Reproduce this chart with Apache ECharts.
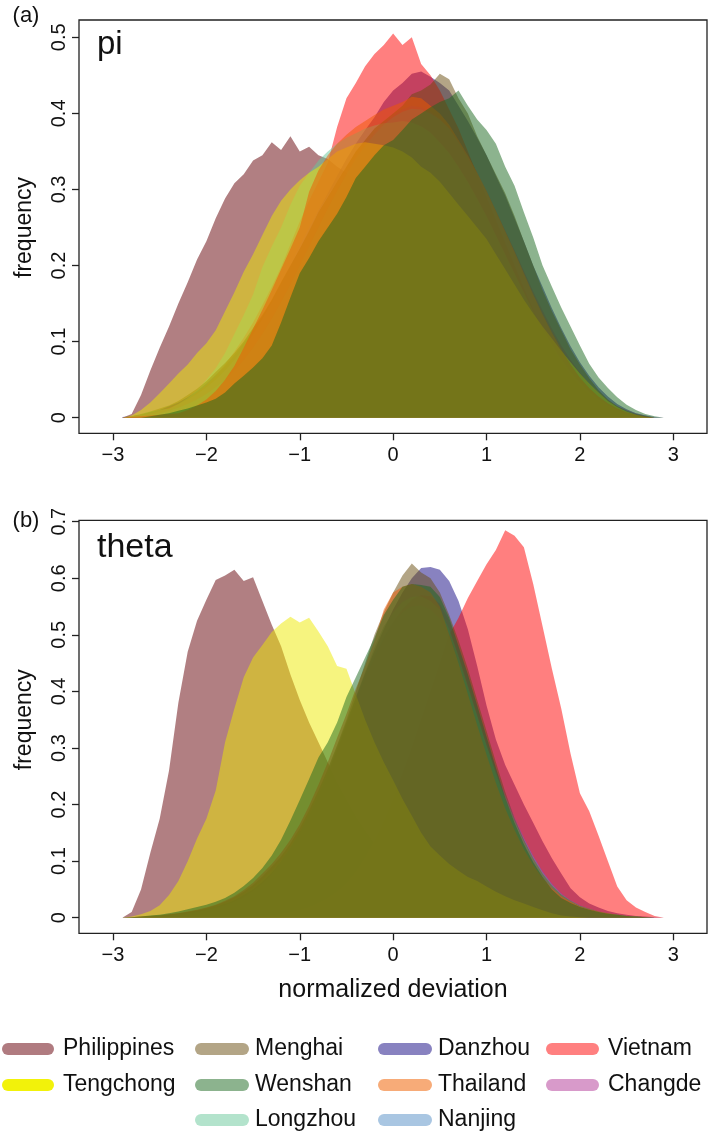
<!DOCTYPE html>
<html>
<head>
<meta charset="utf-8">
<script src="https://cdn.jsdelivr.net/npm/echarts@6/dist/echarts.min.js"></script>
<style>
html,body{margin:0;padding:0;background:#fff;}
#chart{width:709px;height:1136px;}
</style>
</head>
<body>
<div id="chart"></div>
<script>
// ---------- data ----------
const xs = [-2.9,-2.8,-2.7,-2.6,-2.5,-2.4,-2.3,-2.2,-2.1,-2.0,
  -1.9,-1.8,-1.7,-1.6,-1.5,-1.4,-1.3,-1.2,-1.1,-1.0,
  -0.9,-0.8,-0.7,-0.6,-0.5,-0.4,-0.3,-0.2,-0.1,0.0,
  0.1,0.2,0.3,0.4,0.5,0.6,0.7,0.8,0.9,1.0,
  1.1,1.2,1.3,1.4,1.5,1.6,1.7,1.8,1.9,2.0,
  2.1,2.2,2.3,2.4,2.5,2.6,2.7,2.8,2.9];

const populations = ['Philippines','Menghai','Danzhou','Vietnam','Tengchong','Wenshan','Thailand','Changde','Longzhou','Nanjing'];
const xTicks = [-3,-2,-1,0,1,2,3];
const piTicks = [0,0.1,0.2,0.3,0.4,0.5];
const thetaTicks = [0,0.1,0.2,0.3,0.4,0.5,0.6,0.7];

// panel (a) pi
const piPhilippines = [0,0.005,0.03,0.062,0.092,0.12,0.15,0.178,0.208,0.232,
  0.262,0.288,0.308,0.32,0.338,0.345,0.362,0.352,0.37,0.35,
  0.356,0.345,0.34,0.33,0.322,0.312,0.302,0.29,0.278,0.265,
  0.25,0.235,0.22,0.2,0.185,0.165,0.15,0.13,0.115,0.1,
  0.085,0.07,0.058,0.047,0.037,0.029,0.022,0.016,0.011,0.008,
  0.005,0.003,0.002,0.001,0,0,0,0,0];
const piTengchong = [0,0.003,0.01,0.02,0.032,0.045,0.058,0.07,0.085,0.098,
  0.115,0.14,0.165,0.192,0.215,0.24,0.265,0.285,0.3,0.312,
  0.322,0.33,0.34,0.35,0.355,0.36,0.362,0.36,0.358,0.355,
  0.35,0.342,0.33,0.322,0.31,0.295,0.28,0.265,0.25,0.235,
  0.215,0.195,0.175,0.155,0.137,0.12,0.104,0.088,0.073,0.058,
  0.045,0.033,0.022,0.014,0.008,0.004,0.001,0,0];
const piMenghai = [0,0.002,0.005,0.008,0.012,0.016,0.022,0.03,0.038,0.048,
  0.06,0.072,0.085,0.1,0.118,0.135,0.155,0.178,0.2,0.222,
  0.245,0.27,0.29,0.31,0.33,0.35,0.365,0.38,0.39,0.4,
  0.41,0.425,0.43,0.438,0.452,0.445,0.42,0.4,0.37,0.345,
  0.32,0.295,0.265,0.232,0.2,0.168,0.14,0.115,0.09,0.07,
  0.052,0.036,0.024,0.015,0.009,0.005,0.002,0,0];
const piDanzhou = [0.001,0.002,0.004,0.007,0.01,0.015,0.02,0.027,0.035,0.045,
  0.056,0.068,0.082,0.098,0.115,0.133,0.153,0.175,0.198,0.222,
  0.247,0.272,0.295,0.318,0.34,0.36,0.378,0.395,0.415,0.43,
  0.44,0.452,0.455,0.448,0.44,0.43,0.41,0.39,0.368,0.345,
  0.318,0.292,0.262,0.232,0.2,0.172,0.144,0.118,0.094,0.073,
  0.055,0.04,0.028,0.018,0.011,0.006,0.003,0,0];
const piVietnam = [0,0.002,0.004,0.006,0.009,0.013,0.018,0.025,0.033,0.043,
  0.055,0.07,0.087,0.105,0.125,0.148,0.172,0.198,0.228,0.258,
  0.285,0.31,0.335,0.382,0.42,0.44,0.462,0.478,0.49,0.505,
  0.49,0.5,0.465,0.45,0.43,0.405,0.38,0.35,0.32,0.29,
  0.26,0.23,0.2,0.17,0.142,0.116,0.093,0.073,0.056,0.042,
  0.031,0.022,0.015,0.01,0.006,0.004,0.002,0,0];
const piWenshan = [0,0,0,0.002,0.004,0.006,0.009,0.012,0.016,0.02,
  0.025,0.033,0.045,0.055,0.066,0.078,0.095,0.125,0.158,0.19,
  0.21,0.232,0.25,0.268,0.29,0.315,0.33,0.345,0.358,0.365,
  0.378,0.392,0.4,0.408,0.415,0.42,0.43,0.41,0.392,0.378,
  0.36,0.33,0.305,0.27,0.237,0.2,0.172,0.145,0.12,0.095,
  0.071,0.053,0.039,0.027,0.017,0.01,0.005,0.002,0];
const piThailand = [0,0.001,0.002,0.003,0.004,0.005,0.006,0.01,0.016,0.024,
  0.035,0.05,0.068,0.092,0.117,0.142,0.168,0.195,0.222,0.25,
  0.297,0.325,0.345,0.36,0.372,0.382,0.39,0.398,0.405,0.41,
  0.415,0.422,0.42,0.41,0.4,0.385,0.365,0.345,0.322,0.298,
  0.272,0.245,0.218,0.19,0.162,0.136,0.112,0.09,0.07,0.053,
  0.039,0.028,0.019,0.012,0.007,0.004,0.002,0,0];
const piChangde = [0,0.002,0.004,0.006,0.009,0.013,0.018,0.024,0.031,0.04,
  0.05,0.062,0.076,0.092,0.11,0.13,0.152,0.176,0.2,0.226,
  0.25,0.272,0.292,0.31,0.328,0.345,0.36,0.375,0.388,0.398,
  0.405,0.41,0.408,0.402,0.393,0.38,0.365,0.345,0.322,0.298,
  0.272,0.246,0.22,0.193,0.166,0.141,0.117,0.095,0.076,0.059,
  0.044,0.032,0.022,0.015,0.01,0.006,0.003,0.001,0];
const piLongzhou = [0,0.002,0.005,0.008,0.01,0.012,0.018,0.026,0.036,0.05,
  0.065,0.085,0.11,0.135,0.162,0.198,0.225,0.25,0.28,0.305,
  0.322,0.338,0.35,0.36,0.368,0.374,0.38,0.384,0.387,0.388,
  0.39,0.388,0.383,0.375,0.362,0.348,0.33,0.31,0.288,0.265,
  0.24,0.215,0.19,0.165,0.14,0.117,0.096,0.077,0.06,0.046,
  0.034,0.024,0.016,0.01,0.006,0.003,0.001,0,0];
const piNanjing = [0,0,0.002,0.004,0.006,0.009,0.013,0.018,0.024,0.031,
  0.04,0.05,0.062,0.076,0.092,0.11,0.13,0.152,0.175,0.2,
  0.225,0.25,0.275,0.298,0.32,0.34,0.357,0.372,0.385,0.395,
  0.402,0.406,0.405,0.4,0.392,0.38,0.362,0.342,0.32,0.296,
  0.27,0.243,0.216,0.188,0.161,0.135,0.111,0.09,0.071,0.055,
  0.041,0.03,0.021,0.014,0.009,0.005,0.003,0.001,0];

// panel (b) theta
const thetaPhilippines = [0,0.01,0.05,0.115,0.175,0.26,0.38,0.47,0.525,0.562,
  0.597,0.605,0.615,0.595,0.602,0.56,0.518,0.48,0.43,0.385,
  0.345,0.31,0.275,0.24,0.21,0.18,0.155,0.132,0.112,0.095,
  0.08,0.066,0.055,0.045,0.037,0.03,0.024,0.019,0.015,0.012,
  0.009,0.007,0.005,0.004,0.003,0.002,0.002,0.001,0.001,0,
  0,0,0,0,0,0,0,0,0];
const thetaTengchong = [0,0.002,0.006,0.012,0.022,0.04,0.065,0.1,0.14,0.175,
  0.225,0.31,0.37,0.425,0.46,0.482,0.505,0.52,0.532,0.522,
  0.53,0.506,0.48,0.445,0.44,0.395,0.35,0.31,0.275,0.243,
  0.21,0.18,0.15,0.126,0.11,0.095,0.083,0.072,0.065,0.055,
  0.046,0.038,0.031,0.025,0.019,0.013,0.008,0.004,0.002,0.001,
  0,0,0,0,0,0,0,0,0];
const thetaMenghai = [0,0.001,0.002,0.003,0.004,0.006,0.008,0.01,0.013,0.017,
  0.022,0.028,0.036,0.046,0.058,0.073,0.09,0.108,0.131,0.158,
  0.19,0.225,0.263,0.305,0.35,0.4,0.45,0.5,0.54,0.575,
  0.605,0.626,0.61,0.6,0.575,0.535,0.49,0.44,0.385,0.33,
  0.275,0.222,0.176,0.138,0.105,0.078,0.057,0.041,0.03,0.021,
  0.016,0.011,0.008,0.005,0.003,0.002,0.001,0,0];
const thetaDanzhou = [0,0.001,0.002,0.003,0.004,0.005,0.007,0.009,0.012,0.015,
  0.019,0.024,0.031,0.04,0.05,0.063,0.079,0.099,0.123,0.15,
  0.18,0.215,0.255,0.298,0.342,0.388,0.432,0.472,0.51,0.545,
  0.575,0.6,0.618,0.62,0.615,0.595,0.56,0.51,0.445,0.375,
  0.315,0.27,0.235,0.2,0.168,0.135,0.105,0.078,0.052,0.036,
  0.025,0.018,0.012,0.008,0.005,0.003,0.002,0.001,0];
const thetaVietnam = [0,0,0,0,0,0,0,0,0,0,
  0,0,0,0.001,0.002,0.003,0.004,0.006,0.009,0.013,
  0.018,0.025,0.034,0.045,0.06,0.08,0.105,0.135,0.17,0.21,
  0.255,0.3,0.35,0.4,0.45,0.5,0.53,0.565,0.595,0.625,
  0.65,0.685,0.675,0.655,0.59,0.515,0.44,0.37,0.29,0.22,
  0.188,0.145,0.1,0.055,0.031,0.018,0.01,0.003,0];
const thetaWenshan = [0,0.001,0.002,0.004,0.005,0.008,0.011,0.015,0.019,0.023,
  0.028,0.035,0.044,0.056,0.07,0.088,0.11,0.138,0.172,0.208,
  0.245,0.283,0.31,0.345,0.39,0.425,0.46,0.495,0.535,0.562,
  0.585,0.59,0.588,0.585,0.567,0.53,0.48,0.43,0.375,0.32,
  0.265,0.212,0.168,0.13,0.098,0.072,0.05,0.035,0.026,0.019,
  0.014,0.01,0.007,0.005,0.003,0.002,0.001,0,0];
const thetaThailand = [0,0.001,0.002,0.003,0.004,0.006,0.008,0.011,0.014,0.018,
  0.023,0.03,0.038,0.049,0.062,0.078,0.095,0.115,0.138,0.165,
  0.198,0.235,0.275,0.318,0.36,0.405,0.445,0.49,0.545,0.575,
  0.585,0.59,0.585,0.575,0.55,0.5,0.45,0.395,0.34,0.288,
  0.238,0.193,0.155,0.121,0.093,0.07,0.052,0.038,0.028,0.02,
  0.015,0.011,0.008,0.005,0.003,0.002,0.001,0,0];
const thetaChangde = [0,0.001,0.002,0.002,0.003,0.004,0.006,0.008,0.01,0.013,
  0.017,0.022,0.028,0.036,0.046,0.059,0.075,0.095,0.119,0.147,
  0.179,0.215,0.254,0.296,0.339,0.382,0.423,0.46,0.494,0.522,
  0.545,0.562,0.57,0.568,0.555,0.525,0.48,0.428,0.372,0.318,
  0.266,0.22,0.178,0.142,0.11,0.083,0.061,0.044,0.031,0.022,
  0.016,0.011,0.008,0.005,0.003,0.002,0.001,0,0];
const thetaLongzhou = [0,0.001,0.002,0.003,0.004,0.005,0.007,0.009,0.012,0.015,
  0.019,0.025,0.032,0.041,0.053,0.067,0.083,0.102,0.125,0.15,
  0.182,0.218,0.258,0.3,0.345,0.39,0.435,0.478,0.515,0.54,
  0.558,0.567,0.568,0.56,0.545,0.51,0.462,0.41,0.358,0.305,
  0.255,0.21,0.17,0.135,0.104,0.078,0.057,0.041,0.03,0.021,
  0.016,0.011,0.008,0.005,0.003,0.002,0.001,0,0];
const thetaNanjing = [0,0.001,0.001,0.002,0.003,0.004,0.006,0.008,0.01,0.013,
  0.017,0.022,0.028,0.036,0.047,0.06,0.077,0.098,0.123,0.152,
  0.185,0.222,0.262,0.304,0.346,0.388,0.428,0.464,0.496,0.522,
  0.54,0.55,0.552,0.545,0.528,0.495,0.452,0.405,0.355,0.305,
  0.258,0.215,0.175,0.14,0.108,0.081,0.059,0.042,0.03,0.021,
  0.015,0.01,0.007,0.005,0.003,0.002,0.001,0,0];

const piData = {Philippines:piPhilippines,Menghai:piMenghai,Danzhou:piDanzhou,Vietnam:piVietnam,Tengchong:piTengchong,Wenshan:piWenshan,Thailand:piThailand,Changde:piChangde,Longzhou:piLongzhou,Nanjing:piNanjing};
const thetaData = {Philippines:thetaPhilippines,Menghai:thetaMenghai,Danzhou:thetaDanzhou,Vietnam:thetaVietnam,Tengchong:thetaTengchong,Wenshan:thetaWenshan,Thailand:thetaThailand,Changde:thetaChangde,Longzhou:thetaLongzhou,Nanjing:thetaNanjing};

// ---------- styles ----------
const fillColors = {
  Philippines:'rgba(100,0,5,0.5)', Menghai:'rgba(103,75,13,0.5)', Danzhou:'rgba(17,5,129,0.5)',
  Vietnam:'rgba(255,0,0,0.5)', Tengchong:'rgba(238,233,0,0.5)', Wenshan:'rgba(25,103,29,0.5)',
  Thailand:'rgba(240,87,0,0.5)', Changde:'rgba(177,53,149,0.5)', Longzhou:'rgba(103,199,153,0.5)',
  Nanjing:'rgba(83,141,197,0.5)'
};
const legendColors = {
  Philippines:'#B07B80', Menghai:'#B3A586', Danzhou:'#8882C0', Vietnam:'#FF8080',
  Tengchong:'#F2F20A', Wenshan:'#8CB38E', Thailand:'#F7AB78', Changde:'#D89ACA',
  Longzhou:'#B3E3CC', Nanjing:'#A9C6E2'
};
const drawOrder = ['Philippines','Danzhou','Vietnam','Changde','Nanjing','Longzhou','Menghai','Tengchong','Thailand','Wenshan'];
const FONT = 'Liberation Sans, Arial, Helvetica, sans-serif';

const chart = echarts.init(document.getElementById('chart'), null, {renderer:'canvas'});

function fmtX(v){ return v < 0 ? '\u2212' + Math.abs(v) : String(v); }
function fmtY(v){ return v === 0 ? '0' : String(Math.round(v*10)/10); }

const grids = [
  {left:113, top:37.3, width:560.3, height:380.4},
  {left:113, top:521.7, width:560.3, height:396}
];
function xAxisFor(i){
  return {gridIndex:i, type:'value', min:-3, max:3, interval:1, offset:15.6,
    axisLine:{show:false, onZero:false}, splitLine:{show:false},
    axisTick:{show:true, length:7, lineStyle:{color:'#222', width:1.3}},
    axisLabel:{show:true, margin:12, fontSize:20, color:'#111', fontFamily:FONT, formatter:fmtX}};
}
function yAxisFor(i, max){
  return {gridIndex:i, type:'value', min:0, max:max, interval:0.1, offset:34,
    axisLine:{show:false, onZero:false}, splitLine:{show:false},
    axisTick:{show:true, length:7, lineStyle:{color:'#222', width:1.3}},
    axisLabel:{show:true, rotate:90, margin:10, fontSize:20, color:'#111', fontFamily:FONT, formatter:fmtY}};
}

const series = [];
[piData, thetaData].forEach((dataset, gi) => {
  drawOrder.forEach(name => {
    series.push({
      name: name, type:'line', xAxisIndex:gi, yAxisIndex:gi,
      data: xs.map((x,k) => [x, dataset[name][k]]),
      showSymbol:false, symbol:'none', smooth:false, clip:false,
      lineStyle:{width:0, color:fillColors[name]},
      areaStyle:{color:fillColors[name], opacity:1},
      emphasis:{disabled:true}, silent:true
    });
  });
});

// legend drawn as graphic elements
const legendLayout = [
  {name:'Philippines', col:0, row:0}, {name:'Menghai', col:1, row:0}, {name:'Danzhou', col:2, row:0}, {name:'Vietnam', col:3, row:0},
  {name:'Tengchong', col:0, row:1}, {name:'Wenshan', col:1, row:1}, {name:'Thailand', col:2, row:1}, {name:'Changde', col:3, row:1},
  {name:'Longzhou', col:1, row:2}, {name:'Nanjing', col:2, row:2}
];
const colX = [[8,48,63],[201,243,255],[384,426,438],[552,593,608]];
const rowY = [1049,1085,1120];
const graphics = [];
legendLayout.forEach(it => {
  const c = colX[it.col], y = rowY[it.row];
  graphics.push({type:'line', shape:{x1:c[0], y1:y, x2:c[1], y2:y},
    style:{stroke:legendColors[it.name], lineWidth:12, lineCap:'round'}, silent:true});
  graphics.push({type:'text', x:c[2], y:y, style:{text:it.name, fontSize:23, fontFamily:FONT, fill:'#111', verticalAlign:'middle', align:'left'}});
});
// boxes
graphics.push({type:'rect', shape:{x:79, y:20, width:628, height:413.3}, style:{fill:null, stroke:'#222', lineWidth:1.3}, z:10});
graphics.push({type:'rect', shape:{x:79, y:520.3, width:628, height:413}, style:{fill:null, stroke:'#222', lineWidth:1.3}, z:10});
// titles
graphics.push({type:'text', x:26, y:16, style:{text:'(a)', fontSize:22, fontFamily:FONT, fill:'#111', align:'center', verticalAlign:'middle'}});
graphics.push({type:'text', x:26, y:521, style:{text:'(b)', fontSize:22, fontFamily:FONT, fill:'#111', align:'center', verticalAlign:'middle'}});
graphics.push({type:'text', x:97, y:45, style:{text:'pi', fontSize:33, fontFamily:FONT, fill:'#111', align:'left', verticalAlign:'middle'}});
graphics.push({type:'text', x:97, y:548, style:{text:'theta', fontSize:34, fontFamily:FONT, fill:'#111', align:'left', verticalAlign:'middle'}});
graphics.push({type:'text', x:25, y:227.5, rotation:Math.PI/2, style:{text:'frequency', fontSize:23, fontFamily:FONT, fill:'#111', align:'center', verticalAlign:'middle'}});
graphics.push({type:'text', x:25, y:719.7, rotation:Math.PI/2, style:{text:'frequency', fontSize:23, fontFamily:FONT, fill:'#111', align:'center', verticalAlign:'middle'}});
graphics.push({type:'text', x:393, y:990, style:{text:'normalized deviation', fontSize:25, fontFamily:FONT, fill:'#111', align:'center', verticalAlign:'middle'}});

chart.setOption({
  animation:false,
  backgroundColor:'#ffffff',
  grid: grids,
  xAxis: [xAxisFor(0), xAxisFor(1)],
  yAxis: [yAxisFor(0, 0.5), yAxisFor(1, 0.7)],
  series: series,
  graphic: graphics
});
</script>
</body>
</html>
